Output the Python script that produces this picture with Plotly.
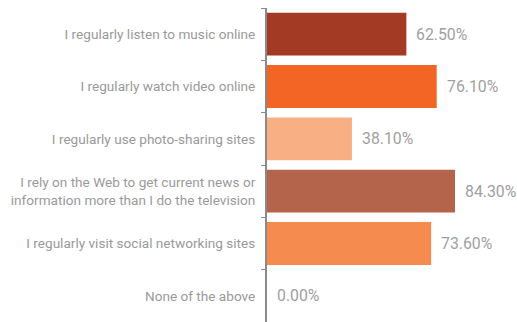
import plotly.graph_objects as go

categories = [
    "I regularly listen to music online",
    "I regularly watch video online",
    "I regularly use photo-sharing sites",
    "I rely on the Web to get current news or<br>information more than I do the television",
    "I regularly visit social networking sites",
    "None of the above",
]
values = [62.5, 76.1, 38.1, 84.3, 73.6, 0.0]
bar_colors = ["#A33A23", "#F26524", "#F9AF84", "#B4644A", "#F68B50", "#F68B50"]
value_labels = [f"{v:.2f}%" for v in values]

fig = go.Figure(
    go.Bar(
        x=values,
        y=categories,
        orientation="h",
        marker=dict(color=bar_colors, line=dict(width=0)),
        hoverinfo="skip",
    )
)

for v, c, t in zip(values, categories, value_labels):
    fig.add_annotation(
        x=v, y=c, text=t, showarrow=False,
        xanchor="left", yanchor="middle", xshift=8,
        font=dict(family="Roboto", size=15.8, color="#A0A0A0"),
    )

fig.update_layout(
    width=517, height=322,
    margin=dict(l=267, r=27, t=8, b=0),
    paper_bgcolor="white", plot_bgcolor="white",
    bargap=0.18,
    showlegend=False,
    xaxis=dict(range=[0, 100], visible=False),
    yaxis=dict(
        autorange="reversed",
        type="category",
        showline=True, linecolor="#8A8A8A", linewidth=2,
        ticks="outside", ticklen=4, tickcolor="#8A8A8A", tickwidth=1,
        tickson="boundaries",
        ticklabelstandoff=7,
        showgrid=False,
        tickfont=dict(family="Roboto", size=13.6, color="#9A9A9A"),
    ),
)

fig.write_html("out.html")
